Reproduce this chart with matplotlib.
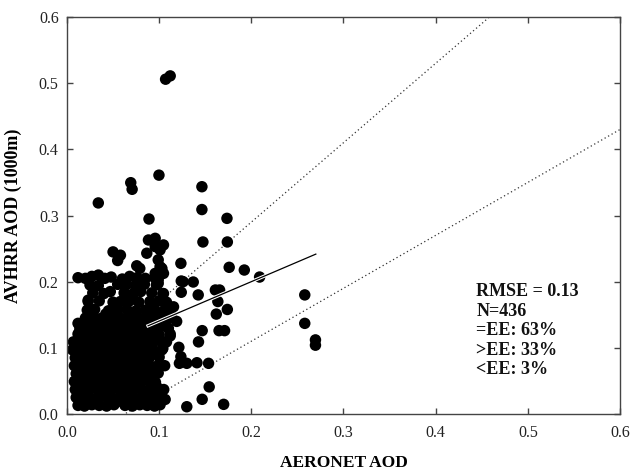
import matplotlib
matplotlib.use("Agg")
import matplotlib.pyplot as plt
import matplotlib.patheffects as pe

# ---- data ----
# sparse / outlying points
sparse_x = [0.107, 0.112, 0.034, 0.0692, 0.0707, 0.0998, 0.1464, 0.1464, 0.1736, 0.089,
            0.1475, 0.174, 0.1236, 0.176, 0.1924, 0.209, 0.124, 0.126, 0.137, 0.124,
            0.1424, 0.161, 0.1656, 0.1637, 0.162, 0.174, 0.1467, 0.165, 0.171, 0.1427,
            0.1214, 0.1236, 0.130, 0.141, 0.1536, 0.122, 0.1543, 0.1467, 0.130, 0.170,
            0.1065, 0.258, 0.258, 0.2696, 0.2696]
sparse_y = [0.506, 0.511, 0.319, 0.3496, 0.3396, 0.361, 0.3435, 0.309, 0.2957, 0.2947,
            0.260, 0.260, 0.2277, 0.2217, 0.2176, 0.207, 0.201, 0.200, 0.1995, 0.184,
            0.180, 0.1874, 0.1874, 0.170, 0.151, 0.158, 0.126, 0.126, 0.126, 0.109,
            0.1008, 0.0866, 0.0766, 0.0775, 0.0766, 0.0766, 0.041, 0.0222, 0.011, 0.0146,
            0.022, 0.180, 0.137, 0.112, 0.104]

# edge of the dense cluster
edge_x = [0.104, 0.119, 0.1156, 0.1076, 0.1047, 0.099, 0.0957, 0.103, 0.099, 0.101,
          0.0957, 0.0866, 0.1047, 0.0884, 0.0957, 0.110, 0.101, 0.0938, 0.0975, 0.101,
          0.079, 0.0757, 0.101, 0.1047, 0.0957, 0.050, 0.058, 0.055, 0.023, 0.012,
          0.014, 0.023, 0.108, 0.113, 0.112]
edge_y = [0.099, 0.140, 0.162, 0.167, 0.182, 0.1975, 0.205, 0.220, 0.233, 0.248,
          0.253, 0.243, 0.2555, 0.263, 0.2655, 0.1295, 0.112, 0.0564, 0.041, 0.031,
          0.220, 0.224, 0.2226, 0.2125, 0.2125, 0.245, 0.240, 0.232, 0.172, 0.137,
          0.128, 0.1395, 0.157, 0.150, 0.118]

# dense cluster, hand-read row by row
core_x = [0.012, 0.019, 0.027, 0.035, 0.043, 0.051, 0.063, 0.071, 0.079, 0.087, 0.095, 0.101,
          0.010, 0.018, 0.026, 0.034, 0.042, 0.050, 0.058, 0.066, 0.074, 0.082, 0.090, 0.098,
          0.009, 0.017, 0.025, 0.033, 0.041, 0.049, 0.057, 0.065, 0.073, 0.081, 0.089, 0.097, 0.105,
          0.008, 0.016, 0.024, 0.032, 0.040, 0.048, 0.056, 0.064, 0.072, 0.080, 0.088, 0.096,
          0.010, 0.018, 0.026, 0.034, 0.042, 0.050, 0.058, 0.066, 0.074, 0.082, 0.090, 0.099,
          0.008, 0.016, 0.024, 0.032, 0.040, 0.048, 0.056, 0.064, 0.072, 0.080, 0.088, 0.097, 0.106,
          0.009, 0.017, 0.025, 0.033, 0.041, 0.049, 0.057, 0.065, 0.073, 0.081, 0.089, 0.100,
          0.006, 0.014, 0.022, 0.030, 0.038, 0.046, 0.054, 0.062, 0.070, 0.078, 0.086, 0.094, 0.103,
          0.007, 0.015, 0.023, 0.031, 0.039, 0.047, 0.055, 0.063, 0.071, 0.079, 0.087, 0.095, 0.108,
          0.012, 0.020, 0.028, 0.036, 0.044, 0.052, 0.060, 0.068, 0.076, 0.084, 0.092, 0.100, 0.112,
          0.014, 0.022, 0.030, 0.038, 0.046, 0.054, 0.062, 0.070, 0.078, 0.086, 0.094, 0.104,
          0.020, 0.028, 0.036, 0.044, 0.052, 0.060, 0.068, 0.076, 0.084, 0.092, 0.100, 0.110]
core_y = [0.013, 0.012, 0.014, 0.013, 0.012, 0.014, 0.013, 0.012, 0.014, 0.013, 0.012, 0.014,
          0.025, 0.026, 0.024, 0.025, 0.026, 0.024, 0.025, 0.026, 0.024, 0.025, 0.026, 0.024,
          0.037, 0.036, 0.038, 0.037, 0.036, 0.038, 0.037, 0.036, 0.038, 0.037, 0.036, 0.038, 0.037,
          0.049, 0.050, 0.048, 0.049, 0.050, 0.048, 0.049, 0.050, 0.048, 0.049, 0.050, 0.048,
          0.061, 0.060, 0.062, 0.061, 0.060, 0.062, 0.061, 0.060, 0.062, 0.061, 0.060, 0.062,
          0.073, 0.074, 0.072, 0.073, 0.074, 0.072, 0.073, 0.074, 0.072, 0.073, 0.074, 0.072, 0.073,
          0.085, 0.084, 0.086, 0.085, 0.084, 0.086, 0.085, 0.084, 0.086, 0.085, 0.084, 0.086,
          0.097, 0.098, 0.096, 0.097, 0.098, 0.096, 0.097, 0.098, 0.096, 0.097, 0.098, 0.096, 0.097,
          0.109, 0.108, 0.110, 0.109, 0.108, 0.110, 0.109, 0.108, 0.110, 0.109, 0.108, 0.110, 0.109,
          0.121, 0.122, 0.120, 0.121, 0.122, 0.120, 0.121, 0.122, 0.120, 0.121, 0.122, 0.120, 0.121,
          0.133, 0.132, 0.134, 0.133, 0.132, 0.134, 0.133, 0.132, 0.134, 0.133, 0.132, 0.134,
          0.145, 0.146, 0.144, 0.145, 0.146, 0.144, 0.145, 0.146, 0.144, 0.145, 0.146, 0.144]

# in-between points of the dense cluster
fill_x = [0.023, 0.039, 0.055, 0.067, 0.083, 0.031, 0.047, 0.061, 0.077, 0.093,
          0.020, 0.036, 0.052, 0.070, 0.086, 0.028, 0.044, 0.060, 0.076, 0.091,
          0.018, 0.034, 0.050, 0.066, 0.082, 0.026, 0.042, 0.058, 0.074, 0.090,
          0.016, 0.032, 0.048, 0.064, 0.080, 0.096]
fill_y = [0.019, 0.031, 0.019, 0.031, 0.019, 0.043, 0.055, 0.043, 0.055, 0.043,
          0.067, 0.079, 0.067, 0.079, 0.067, 0.091, 0.103, 0.091, 0.103, 0.091,
          0.115, 0.127, 0.115, 0.127, 0.115, 0.139, 0.151, 0.139, 0.151, 0.139,
          0.055, 0.067, 0.079, 0.091, 0.103, 0.127]

# upper, looser part of the cluster
upper_x = [0.022, 0.030, 0.045, 0.055, 0.065, 0.075, 0.085, 0.095, 0.105,
           0.023, 0.035, 0.050, 0.058, 0.068, 0.078, 0.090, 0.100, 0.108,
           0.028, 0.040, 0.047, 0.062, 0.072, 0.080, 0.092, 0.104,
           0.025, 0.034, 0.055, 0.064, 0.074, 0.084, 0.097,
           0.012, 0.020, 0.027, 0.034, 0.041, 0.048, 0.060, 0.068, 0.076, 0.085, 0.099]
upper_y = [0.157, 0.158, 0.156, 0.157, 0.158, 0.156, 0.157, 0.158, 0.156,
           0.170, 0.171, 0.169, 0.170, 0.171, 0.169, 0.170, 0.171, 0.169,
           0.183, 0.182, 0.185, 0.183, 0.182, 0.185, 0.183, 0.182,
           0.195, 0.194, 0.196, 0.195, 0.194, 0.196, 0.195,
           0.206, 0.205, 0.208, 0.210, 0.205, 0.207, 0.204, 0.208, 0.206, 0.205, 0.203]

# expected-error envelopes and fitted line
ee_upper = (1.2, 0.05)     # slope, intercept
ee_lower = (0.8, -0.05)
fit = (0.595, 0.081)
fit_range = [0.088, 0.27]
stats_lines = ["RMSE = 0.13", "N=436", "=EE: 63%", ">EE: 33%", "<EE: 3%"]

x_all = sparse_x + edge_x + core_x + fill_x + upper_x
y_all = sparse_y + edge_y + core_y + fill_y + upper_y

fig = plt.figure(figsize=(6.3, 4.71), dpi=100)
ax = fig.add_axes([0.1063, 0.121, 0.8778, 0.8429])

serif = ["Liberation Serif", "DejaVu Serif"]

xe = [0.0, 0.6]
ax.plot(xe, [ee_upper[0] * v + ee_upper[1] for v in xe], ls=(0, (1, 2.2)), color="#333333", lw=0.9, zorder=1)
ax.plot(xe, [ee_lower[0] * v + ee_lower[1] for v in xe], ls=(0, (1, 2.2)), color="#333333", lw=0.9, zorder=1)

ax.scatter(x_all, y_all, s=68, color="black", edgecolors="none", zorder=2)

ax.plot(fit_range, [fit[0] * v + fit[1] for v in fit_range], color="black", lw=0.9, zorder=3,
        path_effects=[pe.Stroke(linewidth=2.4, foreground="white"), pe.Normal()])

ax.set_xlim(0, 0.6)
ax.set_ylim(0, 0.6)
ticks = [0.0, 0.1, 0.2, 0.3, 0.4, 0.5, 0.6]
ax.set_xticks(ticks)
ax.set_yticks(ticks)
ax.set_xticklabels([f"{t:.1f}" for t in ticks], fontfamily=serif, fontsize=11.5)
ax.set_yticklabels([f"{t:.1f}" for t in ticks], fontfamily=serif, fontsize=11.5)
ax.tick_params(direction="in", length=4.5, width=1, color="#444444",
               top=True, right=True, labelcolor="#222222")
ax.tick_params(axis="x", pad=8)
ax.tick_params(axis="y", pad=6)
for sp in ax.spines.values():
    sp.set_color("#444444")
    sp.set_linewidth(1.0)

ax.set_xlabel("AERONET AOD", fontfamily=serif, fontweight="bold", fontsize=12.5)
ax.xaxis.set_label_coords(0.5, -0.103)
ax.set_ylabel("AVHRR AOD (1000m)", fontfamily=serif, fontweight="bold", fontsize=13, labelpad=12)

ax.text(0.444, 0.198, "\n".join(stats_lines), fontfamily=serif, fontweight="bold",
        fontsize=13, va="top", ha="left", linespacing=1.2, color="#111111")

fig.savefig("out.png", dpi=100)
